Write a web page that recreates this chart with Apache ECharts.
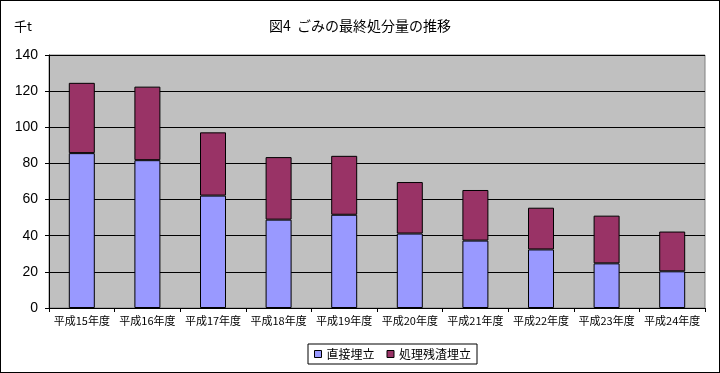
<!DOCTYPE html>
<html><head><meta charset="utf-8">
<script src="https://cdn.jsdelivr.net/npm/echarts@6/dist/echarts.min.js"></script>
<style>html,body{margin:0;padding:0;background:#fff}#c{width:720px;height:373px;box-sizing:border-box;border:1px solid #000}</style>
</head><body><div id="c"></div>
<script>
var categories = ['平成15年度','平成16年度','平成17年度','平成18年度','平成19年度','平成20年度','平成21年度','平成22年度','平成23年度','平成24年度'];
var direct = [85.7, 81.8, 62.2, 48.9, 51.6, 41.2, 37.3, 32.4, 24.7, 20.3];
var residue = [38.9, 40.7, 35.0, 34.6, 32.6, 28.5, 28.0, 23.1, 26.4, 22.0];
var seriesNames = ['直接埋立', '処理残渣埋立'];
var yTicks = [0, 20, 40, 60, 80, 100, 120, 140];
var font = '"Noto Sans CJK JP", sans-serif';
var chart = echarts.init(document.getElementById('c'), null, {renderer:'canvas'});
chart.setOption({
  animation: false,
  title: {text: '図4  ごみの最終処分量の推移', left: 'center', top: 13, textStyle:{fontFamily:font, fontSize:14, fontWeight:'normal', color:'#000'}},
  graphic: [{type:'text', left: 13, top: 19, style:{text:'千t', font:'13px ' + font, fill:'#000'}}],
  legend: {top: 343, left: 307, itemWidth: 7, itemHeight: 7, itemGap: 12, padding:[4,6,4,6],
    borderColor:'#000', borderWidth:1, icon:'rect',
    itemStyle:{borderColor:'#000', borderWidth:1},
    textStyle:{fontFamily:font, fontSize:12, color:'#000'}},
  grid: {left: 48, right: 14, top: 54, bottom: 64, show:true, backgroundColor:'#c0c0c0', borderColor:'#808080', borderWidth:1},
  xAxis: {type:'category', data: categories,
    axisLine:{lineStyle:{color:'#000'}}, axisTick:{show:true, lineStyle:{color:'#000'}, length:4},
    axisLabel:{fontFamily:font, fontSize:11, color:'#000', interval:0, margin:7}},
  yAxis: {type:'value', min: yTicks[0], max: yTicks[yTicks.length-1], interval: 20,
    axisLine:{show:true, lineStyle:{color:'#000'}}, axisTick:{show:true, length:4, lineStyle:{color:'#000'}},
    splitLine:{lineStyle:{color:'#000', width:1}},
    axisLabel:{fontFamily:'"Liberation Sans", Arial, sans-serif', fontSize:14, color:'#000', margin:11}},
  series: [
    {name: seriesNames[0], type:'bar', stack:'a', data: direct, barWidth: 26,
      itemStyle:{color:'#9999ff', borderColor:'#000', borderWidth:1}},
    {name: seriesNames[1], type:'bar', stack:'a', data: residue, barWidth: 26,
      itemStyle:{color:'#993366', borderColor:'#000', borderWidth:1}}
  ]
});
</script></body></html>
